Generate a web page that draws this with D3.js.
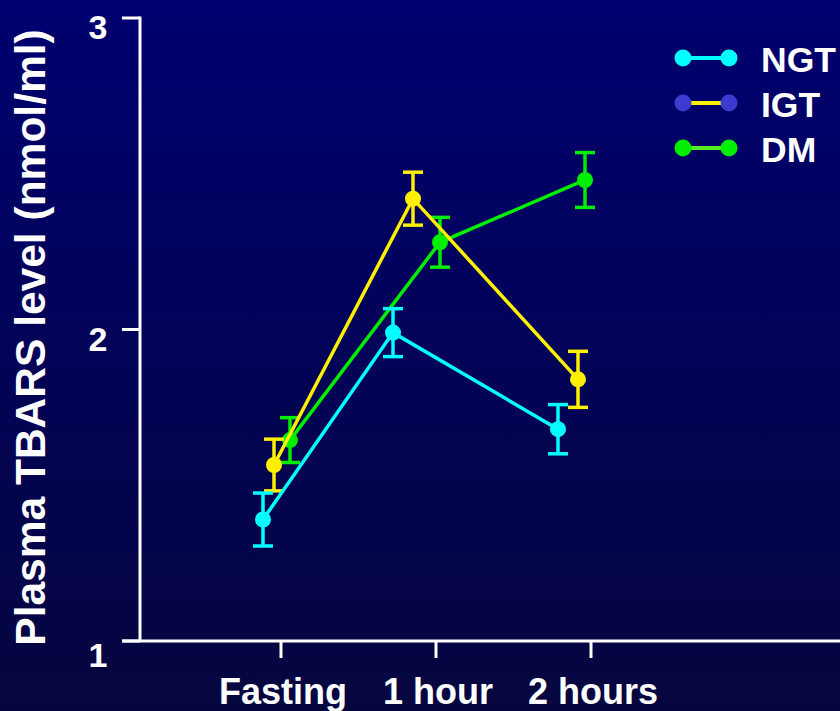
<!DOCTYPE html>
<html>
<head>
<meta charset="utf-8">
<script src="https://cdn.jsdelivr.net/npm/d3@7/dist/d3.min.js"></script>
<style>
  html, body { margin: 0; padding: 0; background: #000060; }
  svg { display: block; }
  text { font-family: "Liberation Sans", Arial, sans-serif; font-weight: bold; fill: #ffffff; }
</style>
</head>
<body>
<svg id="chart" width="840" height="711"></svg>
<script>
// Plasma TBARS level over an oral glucose test, mean ± SEM per group
const categories = ["Fasting", "1 hour", "2 hours"];
const groups = ["NGT", "IGT", "DM"];
const ngtMean = [1.39, 1.99, 1.68];
const ngtSem  = [0.085, 0.077, 0.079];
const igtMean = [1.565, 2.42, 1.84];
const igtSem  = [0.083, 0.085, 0.09];
const dmMean  = [1.645, 2.28, 2.48];
const dmSem   = [0.072, 0.08, 0.088];
const yTicks  = [1, 2, 3];
const yTitle  = "Plasma TBARS level (nmol/ml)";

// Styling and horizontal nudges that keep overlapping groups apart (px)
const style = {
  NGT: { line: "#00ffff", marker: "#00ffff", nudge: [-18, -43, -33] },
  IGT: { line: "#fff000", marker: "#fff000", legendMarker: "#3b3bcf", nudge: [-7, -23, -13] },
  DM:  { line: "#00ee00", marker: "#00ee00", legendLine: "#55ee22", nudge: [9, 4, -6] }
};

const series = [
  { name: "NGT", mean: ngtMean, sem: ngtSem },
  { name: "IGT", mean: igtMean, sem: igtSem },
  { name: "DM",  mean: dmMean,  sem: dmSem }
];

const svg = d3.select("#chart");
const W = 840, H = 711;

// background
const defs = svg.append("defs");
const grad = defs.append("linearGradient").attr("id", "bg").attr("x1", 0).attr("y1", 0).attr("x2", 0).attr("y2", 1);
grad.append("stop").attr("offset", "0%").attr("stop-color", "#000070");
grad.append("stop").attr("offset", "100%").attr("stop-color", "#06063f");
svg.append("rect").attr("width", W).attr("height", H).attr("fill", "url(#bg)");

const axisX0 = 140;   // y axis position
const axisY0 = 641;   // x axis position

const y = d3.scaleLinear().domain([1, 3]).range([641, 18]);
const x = d3.scalePoint().domain(categories).range([281, 591]);

const white = "#ffffff";

// y axis
const gy = svg.append("g");
gy.append("line").attr("x1", axisX0).attr("x2", axisX0).attr("y1", y(3) - 1.5).attr("y2", axisY0)
  .attr("stroke", white).attr("stroke-width", 3);
gy.selectAll("line.tick").data(yTicks).join("line").attr("class", "tick")
  .attr("x1", 122).attr("x2", axisX0).attr("y1", d => y(d)).attr("y2", d => y(d))
  .attr("stroke", white).attr("stroke-width", 3);
gy.selectAll("text").data(yTicks).join("text")
  .attr("x", 98).attr("y", d => y(d) + (d === 1 ? 26 : 21))
  .attr("text-anchor", "middle").attr("font-size", 34)
  .text(d => d3.format("d")(d));

// x axis
const gx = svg.append("g");
gx.append("line").attr("x1", 122).attr("x2", W).attr("y1", axisY0).attr("y2", axisY0)
  .attr("stroke", white).attr("stroke-width", 3);
gx.selectAll("line.tick").data(categories).join("line").attr("class", "tick")
  .attr("x1", d => x(d)).attr("x2", d => x(d)).attr("y1", axisY0).attr("y2", axisY0 + 17)
  .attr("stroke", white).attr("stroke-width", 3);
gx.selectAll("text").data(categories).join("text")
  .attr("x", d => x(d) + 2).attr("y", 704)
  .attr("text-anchor", "middle").attr("font-size", 36)
  .text(d => d);

// y title
svg.append("text")
  .attr("transform", `translate(45, ${(30 + 645) / 2}) rotate(-90)`)
  .attr("text-anchor", "middle").attr("font-size", 42.5)
  .text(yTitle);

// data: draw DM first so IGT and NGT sit on top
const drawOrder = ["DM", "IGT", "NGT"];
const capHalf = 10;
drawOrder.forEach(name => {
  const s = series.find(d => d.name === name);
  const st = style[name];
  const pts = categories.map((c, i) => ({
    cx: x(c) + st.nudge[i], m: s.mean[i], e: s.sem[i]
  }));
  const g = svg.append("g");
  g.append("path")
    .attr("d", d3.line().x(d => d.cx).y(d => y(d.m))(pts))
    .attr("fill", "none").attr("stroke", st.line).attr("stroke-width", 3.5);
  const eb = g.selectAll("g.err").data(pts).join("g").attr("class", "err");
  eb.append("line").attr("x1", d => d.cx).attr("x2", d => d.cx)
    .attr("y1", d => y(d.m + d.e)).attr("y2", d => y(d.m - d.e))
    .attr("stroke", st.marker).attr("stroke-width", 3.5);
  eb.append("line").attr("x1", d => d.cx - capHalf).attr("x2", d => d.cx + capHalf)
    .attr("y1", d => y(d.m + d.e)).attr("y2", d => y(d.m + d.e))
    .attr("stroke", st.marker).attr("stroke-width", 3.5);
  eb.append("line").attr("x1", d => d.cx - capHalf).attr("x2", d => d.cx + capHalf)
    .attr("y1", d => y(d.m - d.e)).attr("y2", d => y(d.m - d.e))
    .attr("stroke", st.marker).attr("stroke-width", 3.5);
  g.selectAll("circle").data(pts).join("circle")
    .attr("cx", d => d.cx).attr("cy", d => y(d.m)).attr("r", 8)
    .attr("fill", st.marker);
});

// legend
const legend = svg.append("g");
const legY = [58, 103, 148];
groups.forEach((name, i) => {
  const st = style[name];
  const ly = legY[i];
  legend.append("line").attr("x1", 683).attr("x2", 729).attr("y1", ly).attr("y2", ly)
    .attr("stroke", st.legendLine || st.line).attr("stroke-width", 4);
  [683, 729].forEach(cx => legend.append("circle").attr("cx", cx).attr("cy", ly).attr("r", 8.5)
    .attr("fill", st.legendMarker || st.marker));
  legend.append("text").attr("x", 761).attr("y", ly + 14).attr("font-size", 35.5).text(name);
});
</script>
</body>
</html>
